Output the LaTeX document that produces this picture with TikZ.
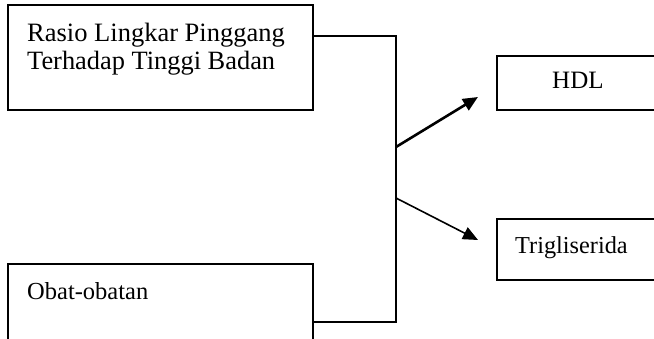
\documentclass[tikz,border=0pt]{standalone}
\usepackage{fontspec}
\setmainfont{Liberation Serif}
\usetikzlibrary{arrows.meta}
\begin{document}
\begin{tikzpicture}[x=1pt,y=-1pt,
  box/.style={draw, line width=1.2pt, rectangle, inner sep=0pt, outer sep=0pt, anchor=north west},
  lbl/.style={anchor=base west, inner sep=0pt, font=\fontsize{#1}{28}\selectfont},
  lbl/.default=25,
  link/.style={line width=1.2pt},
  arr/.style={-{Triangle[length=15pt,width=13pt]}}]
\useasboundingbox (0,0) rectangle (654,339);
\clip (0,0) rectangle (654,339);
\node[box, minimum width=305pt, minimum height=105pt] (b1) at (8,5) {};
\node[box, minimum width=305pt, minimum height=100pt] (b2) at (8,264) {};
\node[box, minimum width=170pt, minimum height=54pt] (hdl) at (497,56) {};
\node[box, minimum width=170pt, minimum height=61pt] (tg) at (497,219) {};
\node[lbl=26.5] (t1a) at (27,42) {Rasio Lingkar Pinggang};
\node[lbl=26.4] (t1b) at (27,70) {Terhadap Tinggi Badan};
\node[lbl=24.5] (t2) at (27,300) {Obat-obatan};
\node[lbl=25] (t3) at (552,89) {HDL};
\node[lbl=24.3] (t4) at (515,254) {Trigliserida};
\coordinate (j1) at (396,36);
\coordinate (j2) at (396,322);
\coordinate (a1s) at (396,147);
\coordinate (a1e) at (478,97);
\coordinate (a2s) at (396,198);
\coordinate (a2e) at (478,240);
\draw[link] (j1 -| b1.east) -- (j1) -- (j2) -- (j2 -| b2.east);
\draw[arr, line width=2.6pt] (a1s) -- (a1e);
\draw[arr, line width=1.6pt] (a2s) -- (a2e);
\end{tikzpicture}
\end{document}
